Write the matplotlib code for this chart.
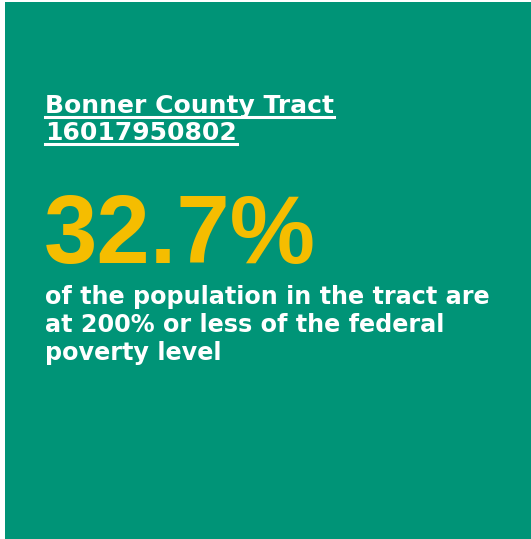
import matplotlib
matplotlib.use("Agg")
import matplotlib.pyplot as plt
from matplotlib.patches import Rectangle
from matplotlib.lines import Line2D

title_lines = ["Bonner County Tract", "16017950802"]
value_text = "32.7%"
body_lines = ["of the population in the tract are",
              "at 200% or less of the federal",
              "poverty level"]

bg_color = "#009477"
value_color = "#F5BD00"

W, H = 531, 539
fig = plt.figure(figsize=(W / 100, H / 100), dpi=100)
fig.patch.set_facecolor("white")

def fx(px):
    return px / W

def fy(py):
    return 1 - py / H

# green card
fig.patches.append(Rectangle((fx(5), 0), 1 - fx(5), fy(2), transform=fig.transFigure,
                             facecolor=bg_color, edgecolor="none"))

renderer = fig.canvas.get_renderer()

# title with underline
title_baselines = [113, 140]
for line, base in zip(title_lines, title_baselines):
    t = fig.text(fx(45), fy(base), line, color="white", fontsize=18, fontweight="bold",
                 family="DejaVu Sans", va="baseline", ha="left")
    bb = t.get_window_extent(renderer=renderer)
    uy = fy(base + 4)
    fig.lines.append(Line2D([bb.x0 / W, bb.x1 / W], [uy, uy], transform=fig.transFigure,
                            color="white", linewidth=2.2))

# big value
fig.text(fx(44), fy(263), value_text, color=value_color, fontsize=69, fontweight="bold",
         fontstretch="normal", family=["Liberation Sans", "Arial", "DejaVu Sans"],
         va="baseline", ha="left")

# description
body_baselines = [304, 332, 360]
for line, base in zip(body_lines, body_baselines):
    fig.text(fx(45), fy(base), line, color="white", fontsize=17.2, fontweight="bold",
             family="DejaVu Sans", va="baseline", ha="left")

plt.savefig("out.png", dpi=100, facecolor=fig.get_facecolor())
